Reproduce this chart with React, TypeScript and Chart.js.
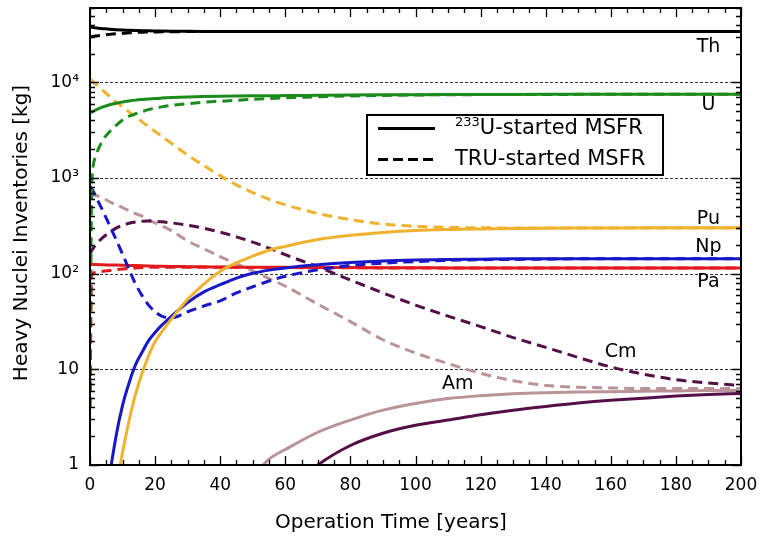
import React, { useEffect, useRef } from 'react';
import { Chart, registerables } from 'chart.js';

Chart.register(...registerables);

// ---------------- data ----------------
const years = [0, 0.5, 1, 2, 4, 6, 8, 10, 12, 14, 16, 18, 20, 22, 25, 30, 35, 40, 45, 50, 55, 60, 70, 80, 90, 100, 110, 120, 130, 140, 150, 160, 170, 180, 190, 200];

const thSolid = [38000, 37800, 37500, 37000, 36500, 36000, 35600, 35300, 35100, 34900, 34700, 34600, 34500, 34400, 34300, 34200, 34100, 34000, 34000, 34000, 34000, 34000, 34000, 34000, 34000, 34000, 34000, 34000, 34000, 34000, 34000, 34000, 34000, 34000, 34000, 34000];
const thTru = [30000, 30100, 30300, 30600, 31200, 31800, 32300, 32700, 33000, 33300, 33500, 33600, 33700, 33800, 33900, 34000, 34000, 34000, 34000, 34000, 34000, 34000, 34000, 34000, 34000, 34000, 34000, 34000, 34000, 34000, 34000, 34000, 34000, 34000, 34000, 34000];

const uSolid = [4800, 4900, 5000, 5200, 5550, 5850, 6050, 6250, 6400, 6530, 6630, 6720, 6800, 6860, 6940, 7050, 7120, 7170, 7210, 7240, 7260, 7280, 7330, 7380, 7420, 7450, 7470, 7480, 7490, 7500, 7500, 7500, 7500, 7500, 7500, 7500];
const uTru = [4, 700, 1350, 1800, 2500, 3050, 3550, 4050, 4430, 4700, 4950, 5200, 5380, 5550, 5750, 6000, 6200, 6350, 6500, 6650, 6780, 6900, 7080, 7220, 7320, 7390, 7430, 7460, 7480, 7490, 7500, 7500, 7500, 7500, 7500, 7500];

const puSolid = [null, null, null, null, null, 0.23, 0.58, 1.35, 2.9, 5.5, 9.1, 13.8, 19.5, 24.5, 33.5, 54, 78, 106, 130, 153, 176, 193, 228, 252, 270, 283, 290, 294, 297, 299, 300, 301, 302, 302, 302, 302];
const puTru = [10800, 10500, 10100, 9450, 8200, 7150, 6250, 5550, 4920, 4370, 3870, 3440, 3070, 2740, 2310, 1740, 1350, 1060, 850, 705, 600, 525, 427, 367, 331, 313, 305, 302, 301, 300, 300, 300, 300, 300, 300, 300];

const npSolid = [null, null, null, null, 0.2, 0.75, 2.0, 4.2, 7.2, 11.2, 15.1, 20, 24.3, 28.8, 35.9, 50, 64.6, 76.7, 90, 101, 109, 115, 124, 131, 136, 139, 141, 142, 143, 143, 143, 143, 143, 143, 143, 143];
const npTru = [810, 770, 730, 620, 450, 320, 228, 160, 111, 78, 59, 47, 40, 36, 34.6, 40, 46, 52, 63, 73, 84, 94, 110, 122, 129, 134, 138, 140, 141, 142, 143, 143, 143, 143, 143, 143];

const paSolid = [125, 125, 125, 124.5, 124, 123.5, 123, 122.5, 122, 121.5, 121, 120.5, 120, 119.5, 119, 118.5, 118, 117.5, 117, 117, 116.5, 116.5, 116, 116, 115.5, 115.5, 115, 115, 115, 115, 115, 115, 115, 115, 115, 115];
const paTru = [4, 100, 102, 104, 106, 108, 110, 112, 114, 115, 116, 117, 117, 117, 117, 117, 117, 116.5, 116.5, 116, 116, 116, 115.5, 115.5, 115, 115, 115, 115, 115, 115, 115, 115, 115, 115, 115, 115];

const cmSolid = [null, null, null, null, null, null, null, null, null, null, null, null, null, null, null, null, null, null, null, null, null, 0.5, 1.0, 1.6, 2.15, 2.6, 2.95, 3.35, 3.74, 4.1, 4.45, 4.75, 5.0, 5.25, 5.45, 5.6];
const cmTru = [160, 175, 185, 205, 240, 270, 300, 322, 337, 347, 353, 355, 353, 349, 340, 322, 298, 272, 243, 214, 185, 158, 118, 86, 63, 47, 36, 28, 21.5, 17, 13.3, 10.6, 8.9, 7.8, 7.2, 6.8];

const amSolid = [null, null, null, null, null, null, null, null, null, null, null, null, null, null, null, null, null, null, null, 0.75, 1.15, 1.45, 2.2, 2.95, 3.75, 4.4, 4.95, 5.3, 5.55, 5.7, 5.8, 5.85, 5.9, 5.95, 6.0, 6.0];
const amTru = [690, 680, 670, 655, 620, 565, 525, 490, 455, 425, 400, 367, 340, 316, 282, 220, 182, 151, 127, 107, 89, 74, 48, 31.6, 20.4, 14.8, 11.5, 9.1, 7.6, 6.8, 6.5, 6.4, 6.3, 6.3, 6.3, 6.3];

const xTickValues = [0, 20, 40, 60, 80, 100, 120, 140, 160, 180, 200];
const yTickValues = [1, 10, 100, 1000, 10000];
const yTickLabels = ['1', '10', '10²', '10³', '10⁴'];

const elementLabels = ['Th', 'U', 'Pu', 'Np', 'Pa', 'Cm', 'Am'];
const elementLabelYears = [190, 190, 190, 190, 190, 163, 113];
const elementLabelValues = [23700, 5800, 370, 190, 81, 15, 7.1];

const legendSuperscripts = ['233', ''];
const legendLabels = ['U-started MSFR', 'TRU-started MSFR'];

const xAxisTitle = 'Operation Time [years]';
const yAxisTitle = 'Heavy Nuclei Inventories [kg]';

// ---------------- styles ----------------
const FONT = 'DejaVu Sans';
const COLORS = {
  th: '#000000',
  u: '#1b8c1b',
  pu: '#f0b22e',
  np: '#1818c8',
  pa: '#e41a1a',
  cm: '#560f46',
  am: '#b99398',
};
const DASH = [10, 6];

const seriesDefs = [
  { label: 'Th (233U-started)', data: thSolid, color: COLORS.th, dashed: false },
  { label: 'Th (TRU-started)', data: thTru, color: COLORS.th, dashed: true },
  { label: 'U (233U-started)', data: uSolid, color: COLORS.u, dashed: false },
  { label: 'U (TRU-started)', data: uTru, color: COLORS.u, dashed: true },
  { label: 'Pu (233U-started)', data: puSolid, color: COLORS.pu, dashed: false },
  { label: 'Pu (TRU-started)', data: puTru, color: COLORS.pu, dashed: true },
  { label: 'Np (233U-started)', data: npSolid, color: COLORS.np, dashed: false },
  { label: 'Np (TRU-started)', data: npTru, color: COLORS.np, dashed: true },
  { label: 'Pa (233U-started)', data: paSolid, color: COLORS.pa, dashed: false },
  { label: 'Pa (TRU-started)', data: paTru, color: COLORS.pa, dashed: true },
  { label: 'Cm (233U-started)', data: cmSolid, color: COLORS.cm, dashed: false },
  { label: 'Cm (TRU-started)', data: cmTru, color: COLORS.cm, dashed: true },
  { label: 'Am (233U-started)', data: amSolid, color: COLORS.am, dashed: false },
  { label: 'Am (TRU-started)', data: amTru, color: COLORS.am, dashed: true },
];

// legend box placement as fractions of the chart area
const LEG = { l: 0.4255, r: 0.8802, t: 0.2341, b: 0.3654, lineL: 0.4424, lineR: 0.53, textX: 0.5607, rows: [0.2626, 0.3304] };

const zeroPad = (scale: any) => {
  scale.paddingTop = 0;
  scale.paddingBottom = 0;
  scale.paddingLeft = 0;
  scale.paddingRight = 0;
};

const decoPlugin = {
  id: 'deco',
  beforeDatasetsDraw(chart: any) {
    const { ctx, chartArea: a, scales } = chart;
    const y = scales.y;
    ctx.save();
    ctx.strokeStyle = '#333';
    ctx.lineWidth = 1;
    ctx.setLineDash([3, 2]);
    for (const v of yTickValues.slice(1)) {
      const py = Math.round(y.getPixelForValue(v)) + 0.5;
      ctx.beginPath();
      ctx.moveTo(a.left, py);
      ctx.lineTo(a.right, py);
      ctx.stroke();
    }
    ctx.restore();
  },
  afterDatasetsDraw(chart: any) {
    const { ctx, chartArea: a, scales } = chart;
    const x = scales.x;
    const y = scales.y;
    ctx.save();
    ctx.setLineDash([]);
    ctx.strokeStyle = '#000';
    // ticks
    ctx.lineWidth = 1.3;
    for (let t = x.min; t <= x.max; t += 5) {
      const px = Math.round(x.getPixelForValue(t)) + 0.5;
      const len = t % 20 === 0 ? 9 : 5;
      ctx.beginPath();
      ctx.moveTo(px, a.bottom);
      ctx.lineTo(px, a.bottom - len);
      ctx.moveTo(px, a.top);
      ctx.lineTo(px, a.top + len);
      ctx.stroke();
    }
    for (const d of yTickValues) {
      for (let m = 1; m <= 9; m++) {
        const v = d * m;
        if (v > y.max) break;
        const py = Math.round(y.getPixelForValue(v)) + 0.5;
        const len = m === 1 ? 9 : 5;
        ctx.beginPath();
        ctx.moveTo(a.left, py);
        ctx.lineTo(a.left + len, py);
        ctx.moveTo(a.right, py);
        ctx.lineTo(a.right - len, py);
        ctx.stroke();
      }
    }
    // frame
    ctx.lineWidth = 2;
    ctx.strokeRect(a.left, a.top, a.right - a.left, a.bottom - a.top);

    // element labels
    ctx.fillStyle = '#000';
    ctx.font = `19px "${FONT}"`;
    ctx.textAlign = 'center';
    ctx.textBaseline = 'middle';
    elementLabels.forEach((lab, i) => {
      ctx.fillText(lab, x.getPixelForValue(elementLabelYears[i]), y.getPixelForValue(elementLabelValues[i]));
    });

    // legend
    const W = a.right - a.left;
    const H = a.bottom - a.top;
    const bl = a.left + LEG.l * W;
    const br = a.left + LEG.r * W;
    const bt = a.top + LEG.t * H;
    const bb = a.top + LEG.b * H;
    ctx.fillStyle = '#fff';
    ctx.fillRect(bl, bt, br - bl, bb - bt);
    ctx.lineWidth = 2;
    ctx.strokeStyle = '#000';
    ctx.strokeRect(bl, bt, br - bl, bb - bt);
    LEG.rows.forEach((fr, i) => {
      const ry = Math.round(a.top + fr * H) + 0.5;
      ctx.lineWidth = 3;
      ctx.setLineDash(i === 0 ? [] : [10, 5]);
      ctx.beginPath();
      ctx.moveTo(a.left + LEG.lineL * W, ry);
      ctx.lineTo(a.left + LEG.lineR * W, ry);
      ctx.stroke();
      ctx.setLineDash([]);
      let tx = a.left + LEG.textX * W;
      ctx.fillStyle = '#000';
      ctx.textAlign = 'left';
      ctx.textBaseline = 'middle';
      if (legendSuperscripts[i]) {
        ctx.font = `13px "${FONT}"`;
        ctx.fillText(legendSuperscripts[i], tx, ry - 6);
        tx += ctx.measureText(legendSuperscripts[i]).width;
      }
      ctx.font = `21px "${FONT}"`;
      ctx.fillText(legendLabels[i], tx, ry);
    });

    // axis titles
    ctx.font = `20px "${FONT}"`;
    ctx.textAlign = 'center';
    ctx.textBaseline = 'middle';
    ctx.fillText(xAxisTitle, 391, 523);
    ctx.translate(22, 233);
    ctx.rotate(-Math.PI / 2);
    ctx.fillText(yAxisTitle, 0, 0);
    ctx.restore();
  },
};

export default function App() {
  const ref = useRef<HTMLCanvasElement | null>(null);
  useEffect(() => {
    if (!ref.current) return;
    const chart = new Chart(ref.current, {
      type: 'line',
      data: {
        datasets: seriesDefs.map((s) => ({
          label: s.label,
          data: years.map((t, i) => ({ x: t, y: s.data[i] })),
          borderColor: s.color,
          backgroundColor: s.color,
          borderWidth: 3,
          borderDash: s.dashed ? DASH : [],
          pointRadius: 0,
          fill: false,
          cubicInterpolationMode: 'monotone',
          clip: 0,
        })),
      },
      options: {
        responsive: false,
        animation: false,
        events: [],
        layout: { padding: { top: 8, right: 22, left: 0, bottom: 0 } },
        plugins: { legend: { display: false }, tooltip: { enabled: false }, title: { display: false } },
        scales: {
          x: {
            type: 'linear',
            min: 0,
            max: 200,
            afterBuildTicks: (scale: any) => {
              scale.ticks = xTickValues.map((v) => ({ value: v }));
            },
            afterFit: (scale: any) => {
              scale.height = 74;
              zeroPad(scale);
            },
            grid: { display: false, drawTicks: false },
            border: { display: false },
            ticks: {
              padding: 10,
              color: '#000',
              font: { family: FONT, size: 17 },
              maxRotation: 0,
              autoSkip: false,
              callback: (v: any) => String(v),
            },
          },
          y: {
            type: 'logarithmic',
            min: 1,
            max: 60000,
            afterBuildTicks: (scale: any) => {
              scale.ticks = yTickValues.map((v) => ({ value: v }));
            },
            afterFit: (scale: any) => {
              scale.width = 90;
              zeroPad(scale);
            },
            grid: { display: false, drawTicks: false },
            border: { display: false },
            ticks: {
              padding: 11,
              color: '#000',
              font: { family: FONT, size: 17 },
              autoSkip: false,
              callback: (_v: any, i: number) => yTickLabels[i],
            },
          },
        },
      },
      plugins: [decoPlugin],
    } as any);
    return () => chart.destroy();
  }, []);
  return (
    <div style={{ position: 'fixed', left: 0, top: 0, width: 763, height: 539, background: '#fff' }}>
      <canvas ref={ref} width={763} height={539} />
    </div>
  );
}
